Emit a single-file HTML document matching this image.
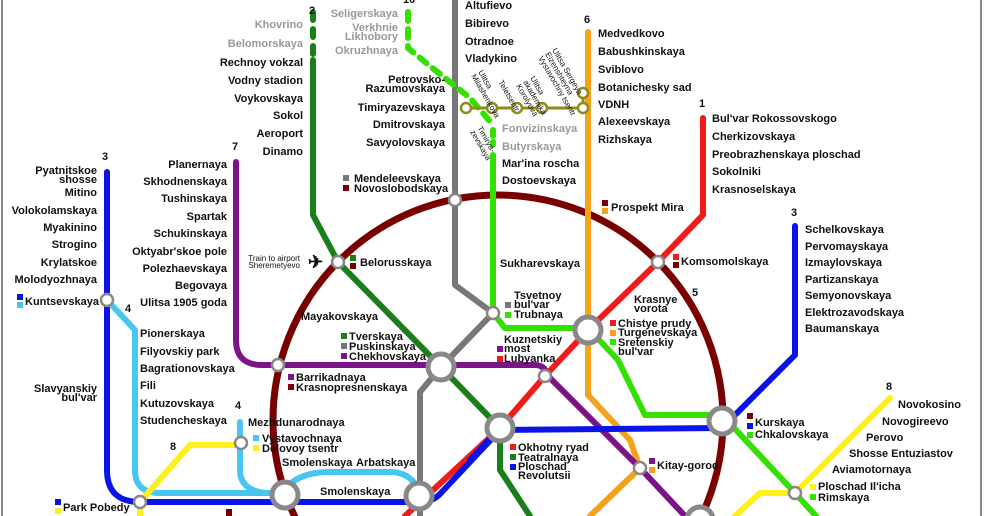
<!DOCTYPE html>
<html><head><meta charset="utf-8"><style>
html,body{margin:0;padding:0;background:#fff;width:984px;height:516px;overflow:hidden;}
svg{display:block;}
text{font-family:"Liberation Sans",sans-serif;font-weight:bold;font-size:11px;fill:#111;}
.g{fill:#999;}
.r{text-anchor:end;}
.s{font-size:8px;font-weight:normal;}
</style></head><body>
<svg width="984" height="516" viewBox="0 0 984 516" xmlns="http://www.w3.org/2000/svg">
<rect x="0" y="0" width="984" height="516" fill="#fff"/>
<line x1="2" y1="0" x2="2" y2="516" stroke="#888" stroke-width="2"/>
<line x1="981" y1="0" x2="981" y2="516" stroke="#888" stroke-width="2"/>
<g fill="none" stroke-linecap="round" stroke-linejoin="round">
<circle cx="498" cy="420" r="225" stroke="#7a0000" stroke-width="7"/>
<path d="M313 12 V55" stroke="#1a7f1a" stroke-width="6" stroke-dasharray="8 9"/>
<path d="M313 60 V215 L338 262 L441 367 L500 428 V470 L530 516" stroke="#1a7f1a" stroke-width="6"/>
<path d="M455 0 V285 L493 313 L441 367 L420 392 V516" stroke="#777" stroke-width="6"/>
<path d="M408 12 V48 L425 62 L470 98 L493 125" stroke="#33e000" stroke-width="6" stroke-dasharray="9 8"/>
<path d="M493 130 V145" stroke="#33e000" stroke-width="6" stroke-dasharray="6 6"/>
<path d="M493 155 V313 L505 328 H588 L618 360 L645 415 H722 L795 493 L816 516" stroke="#33e000" stroke-width="6"/>
<path d="M588 32 V395 L630 440 L640 468 L590 516" stroke="#f5a21b" stroke-width="6"/>
<path d="M703 118 V215 L658 262 L588 330 L545 376 L500 428 L405 516" stroke="#f21b1b" stroke-width="6"/>
<path d="M236 162 V340 Q236 365 262 365 H535 Q545 365 548 376 L640 468 L685 516" stroke="#7b1487" stroke-width="6"/>
<path d="M107 172 V470 Q107 502 140 502 H420 Q432 502 440 494 L500 430 L722 428 L795 355 V226" stroke="#0a14e6" stroke-width="6"/>
<path d="M500 428 L470 460" stroke="#0a14e6" stroke-width="6"/>
<path d="M107 300 L135 330 V470 Q135 493 160 493 H283" stroke="#48c6f2" stroke-width="6"/>
<path d="M240 422 V470 Q240 490 265 493 H283" stroke="#48c6f2" stroke-width="6"/>
<path d="M283 493 Q295 472 330 472 H390 Q412 472 420 493" stroke="#48c6f2" stroke-width="6"/>
<path d="M140 516 V502 L190 445 H240" stroke="#ffef1a" stroke-width="6"/>
<path d="M890 398 L795 493 H760 L735 516" stroke="#ffef1a" stroke-width="6"/>
<path d="M466 108 H583 V93" stroke="#8c8c18" stroke-width="3"/>
</g>
<g fill="#fff" stroke="#8c8c18" stroke-width="2.5">
<circle cx="466" cy="108" r="5"/><circle cx="492" cy="108" r="5"/><circle cx="517" cy="108" r="5"/><circle cx="542" cy="108" r="5"/><circle cx="583" cy="108" r="5"/><circle cx="583" cy="93" r="5"/>
</g>
<g fill="#fff" stroke="#888" stroke-width="5">
<circle cx="441" cy="367" r="13"/><circle cx="588" cy="330" r="13"/><circle cx="500" cy="428" r="13"/><circle cx="722" cy="421" r="13"/><circle cx="285" cy="495" r="13"/><circle cx="419" cy="496" r="13"/><circle cx="700" cy="520" r="13"/>
</g>
<g fill="#fff" stroke="#888" stroke-width="2.5">
<circle cx="338" cy="262" r="6"/><circle cx="455" cy="200" r="6"/><circle cx="658" cy="262" r="6"/><circle cx="493" cy="313" r="6"/><circle cx="545" cy="376" r="6"/><circle cx="278" cy="365" r="6"/><circle cx="640" cy="468" r="6"/><circle cx="241" cy="443" r="6"/><circle cx="107" cy="300" r="6"/><circle cx="140" cy="502" r="6"/><circle cx="795" cy="493" r="6"/>
</g>
<text x="308" y="268" style="font-size:18px">✈</text>

<text x="309" y="14">2</text><text x="403" y="3">10</text><text x="584" y="23">6</text><text x="699" y="107">1</text>
<text x="232" y="150">7</text><text x="102" y="160">3</text><text x="791" y="216">3</text><text x="125" y="312">4</text>
<text x="235" y="409">4</text><text x="170" y="450">8</text><text x="692" y="296">5</text><text x="886" y="390">8</text>

<text class="r g" x="303" y="28">Khovrino</text><text class="r g" x="303" y="47">Belomorskaya</text>
<text class="r" x="303" y="66">Rechnoy vokzal</text><text class="r" x="303" y="84">Vodny stadion</text>
<text class="r" x="303" y="102">Voykovskaya</text><text class="r" x="303" y="119">Sokol</text>
<text class="r" x="303" y="137">Aeroport</text><text class="r" x="303" y="155">Dinamo</text>
<text class="r g" x="398" y="17">Seligerskaya</text><text class="r g" x="398" y="31">Verkhnie</text>
<text class="r g" x="398" y="40">Likhobory</text><text class="r g" x="398" y="54">Okruzhnaya</text>
<text class="g" x="502" y="132">Fonvizinskaya</text><text class="g" x="502" y="150">Butyrskaya</text>
<text x="502" y="167">Mar'ina roscha</text><text x="502" y="184">Dostoevskaya</text>
<text x="465" y="9">Altufievo</text><text x="465" y="27">Bibirevo</text><text x="465" y="45">Otradnoe</text><text x="465" y="62">Vladykino</text>
<text class="r" x="445" y="83">Petrovsko-</text><text class="r" x="445" y="92">Razumovskaya</text>
<text class="r" x="445" y="111">Timiryazevskaya</text><text class="r" x="445" y="128">Dmitrovskaya</text><text class="r" x="445" y="146">Savyolovskaya</text>
<rect x="343" y="175" width="6" height="6" fill="#777"/><text x="354" y="182">Mendeleevskaya</text>
<rect x="343" y="185" width="6" height="6" fill="#7a0000"/><text x="354" y="192">Novoslobodskaya</text>
<text class="s" transform="translate(477,128) rotate(60)">Timirya-</text>
<text class="s" transform="translate(470,132) rotate(60)">zevskaya</text>
<text class="s" transform="translate(478,72) rotate(60)">Ulitsa</text>
<text class="s" transform="translate(471,76) rotate(60)">Milashenkova</text>
<text class="s" transform="translate(498,82) rotate(60)">Teletsentr</text>
<text class="s" transform="translate(530,78) rotate(60)">Ulitsa</text>
<text class="s" transform="translate(523,82) rotate(60)">akademika</text>
<text class="s" transform="translate(516,86) rotate(60)">Korolyova</text>
<text class="s" transform="translate(552,50) rotate(60)">Ulitsa Sergeya</text>
<text class="s" transform="translate(545,54) rotate(60)">Eizenshteyna</text>
<text class="s" transform="translate(538,58) rotate(60)">Vystavochny tsentr</text>
<text x="598" y="37">Medvedkovo</text><text x="598" y="55">Babushkinskaya</text><text x="598" y="73">Sviblovo</text>
<text x="598" y="91">Botanichesky sad</text><text x="598" y="108">VDNH</text><text x="598" y="125">Alexeevskaya</text><text x="598" y="143">Rizhskaya</text>
<rect x="602" y="200" width="6" height="6" fill="#7a0000"/><rect x="602" y="208" width="6" height="6" fill="#f5a21b"/>
<text x="611" y="211">Prospekt Mira</text>
<text x="712" y="122">Bul'var Rokossovskogo</text><text x="712" y="140">Cherkizovskaya</text>
<text x="712" y="158">Preobrazhenskaya ploschad</text><text x="712" y="175">Sokolniki</text><text x="712" y="193">Krasnoselskaya</text>
<rect x="673" y="254" width="6" height="6" fill="#f21b1b"/><rect x="673" y="262" width="6" height="6" fill="#7a0000"/>
<text x="681" y="265">Komsomolskaya</text>
<text x="805" y="233">Schelkovskaya</text><text x="805" y="250">Pervomayskaya</text><text x="805" y="266">Izmaylovskaya</text>
<text x="805" y="283">Partizanskaya</text><text x="805" y="299">Semyonovskaya</text><text x="805" y="316">Elektrozavodskaya</text><text x="805" y="332">Baumanskaya</text>
<text class="r" x="227" y="168">Planernaya</text><text class="r" x="227" y="185">Skhodnenskaya</text><text class="r" x="227" y="202">Tushinskaya</text>
<text class="r" x="227" y="220">Spartak</text><text class="r" x="227" y="237">Schukinskaya</text><text class="r" x="227" y="255">Oktyabr'skoe pole</text>
<text class="r" x="227" y="272">Polezhaevskaya</text><text class="r" x="227" y="289">Begovaya</text><text class="r" x="227" y="306">Ulitsa 1905 goda</text>
<text class="r" x="97" y="174">Pyatnitskoe</text><text class="r" x="97" y="183">shosse</text>
<text class="r" x="97" y="196">Mitino</text><text class="r" x="97" y="214">Volokolamskaya</text><text class="r" x="97" y="231">Myakinino</text>
<text class="r" x="97" y="248">Strogino</text><text class="r" x="97" y="266">Krylatskoe</text><text class="r" x="97" y="283">Molodyozhnaya</text>
<rect x="17" y="294" width="6" height="6" fill="#0a14e6"/><rect x="17" y="302" width="6" height="6" fill="#48c6f2"/>
<text x="25" y="305">Kuntsevskaya</text>
<text class="r" x="97" y="392">Slavyanskiy</text><text class="r" x="97" y="401">bul'var</text>
<text x="140" y="337">Pionerskaya</text><text x="140" y="355">Filyovskiy park</text><text x="140" y="372">Bagrationovskaya</text>
<text x="140" y="389">Fili</text><text x="140" y="407">Kutuzovskaya</text><text x="140" y="424">Studencheskaya</text>
<text x="248" y="426">Mezhdunarodnaya</text>
<rect x="253" y="435" width="6" height="6" fill="#48c6f2"/><rect x="253" y="445" width="6" height="6" fill="#ffef1a"/>
<text x="262" y="442">Vystavochnaya</text><text x="262" y="452">Delovoy tsentr</text>
<text x="282" y="466">Smolenskaya</text><text x="356" y="466">Arbatskaya</text><text x="320" y="495">Smolenskaya</text>
<rect x="55" y="499" width="6" height="6" fill="#0a14e6"/><rect x="55" y="508" width="6" height="6" fill="#ffef1a"/>
<text x="63" y="511">Park Pobedy</text>
<text class="s r" x="300" y="261">Train to airport</text><text class="s r" x="300" y="268">Sheremetyevo</text>
<rect x="350" y="255" width="6" height="6" fill="#1a7f1a"/><rect x="350" y="263" width="6" height="6" fill="#7a0000"/>
<text x="360" y="266">Belorusskaya</text>
<text class="r" x="378" y="320">Mayakovskaya</text>
<rect x="341" y="333" width="6" height="6" fill="#1a7f1a"/><text x="349" y="340">Tverskaya</text>
<rect x="341" y="343" width="6" height="6" fill="#777"/><text x="349" y="350">Puskinskaya</text>
<rect x="341" y="353" width="6" height="6" fill="#7b1487"/><text x="349" y="360">Chekhovskaya</text>
<rect x="288" y="374" width="6" height="6" fill="#7b1487"/><text x="296" y="381">Barrikadnaya</text>
<rect x="288" y="384" width="6" height="6" fill="#7a0000"/><text x="296" y="391">Krasnopresnenskaya</text>
<text x="514" y="299">Tsvetnoy</text><text x="514" y="308">bul'var</text><text x="514" y="318">Trubnaya</text>
<rect x="505" y="302" width="6" height="6" fill="#777"/><rect x="505" y="312" width="6" height="6" fill="#33e000"/>
<text x="504" y="343">Kuznetskiy</text><text x="504" y="352">most</text><text x="504" y="362">Lubyanka</text>
<rect x="497" y="346" width="6" height="6" fill="#7b1487"/><rect x="497" y="356" width="6" height="6" fill="#f21b1b"/>
<text class="r" x="580" y="267">Sukharevskaya</text>
<text x="634" y="303">Krasnye</text><text x="634" y="312">vorota</text>
<rect x="610" y="320" width="6" height="6" fill="#f21b1b"/><text x="618" y="327">Chistye prudy</text>
<rect x="610" y="330" width="6" height="6" fill="#f5a21b"/><text x="618" y="336">Turgenevskaya</text>
<rect x="610" y="339" width="6" height="6" fill="#33e000"/><text x="618" y="346">Sretenskiy</text>
<text x="618" y="355">bul'var</text>
<rect x="510" y="444" width="6" height="6" fill="#f21b1b"/><text x="518" y="451">Okhotny ryad</text>
<rect x="510" y="454" width="6" height="6" fill="#1a7f1a"/><text x="518" y="461">Teatralnaya</text>
<rect x="510" y="464" width="6" height="6" fill="#0a14e6"/><text x="518" y="470">Ploschad</text>
<text x="518" y="479">Revolutsii</text>
<rect x="649" y="458" width="6" height="6" fill="#7b1487"/><rect x="649" y="467" width="6" height="6" fill="#f5a21b"/>
<text x="657" y="469">Kitay-gorod</text>
<rect x="747" y="413" width="6" height="6" fill="#7a0000"/><rect x="747" y="423" width="6" height="6" fill="#0a14e6"/><rect x="747" y="432" width="6" height="6" fill="#33e000"/>
<text x="755" y="426">Kurskaya</text><text x="755" y="438">Chkalovskaya</text>
<text x="898" y="408">Novokosino</text><text x="882" y="425">Novogireevo</text><text x="866" y="441">Perovo</text>
<text x="849" y="457">Shosse Entuziastov</text><text x="832" y="473">Aviamotornaya</text>
<rect x="810" y="484" width="6" height="6" fill="#ffef1a"/><text x="818" y="490">Ploschad Il'icha</text>
<rect x="810" y="494" width="6" height="6" fill="#33e000"/><text x="818" y="501">Rimskaya</text>
<rect x="226" y="509" width="6" height="7" fill="#7a0000"/>
</svg>
</body></html>
